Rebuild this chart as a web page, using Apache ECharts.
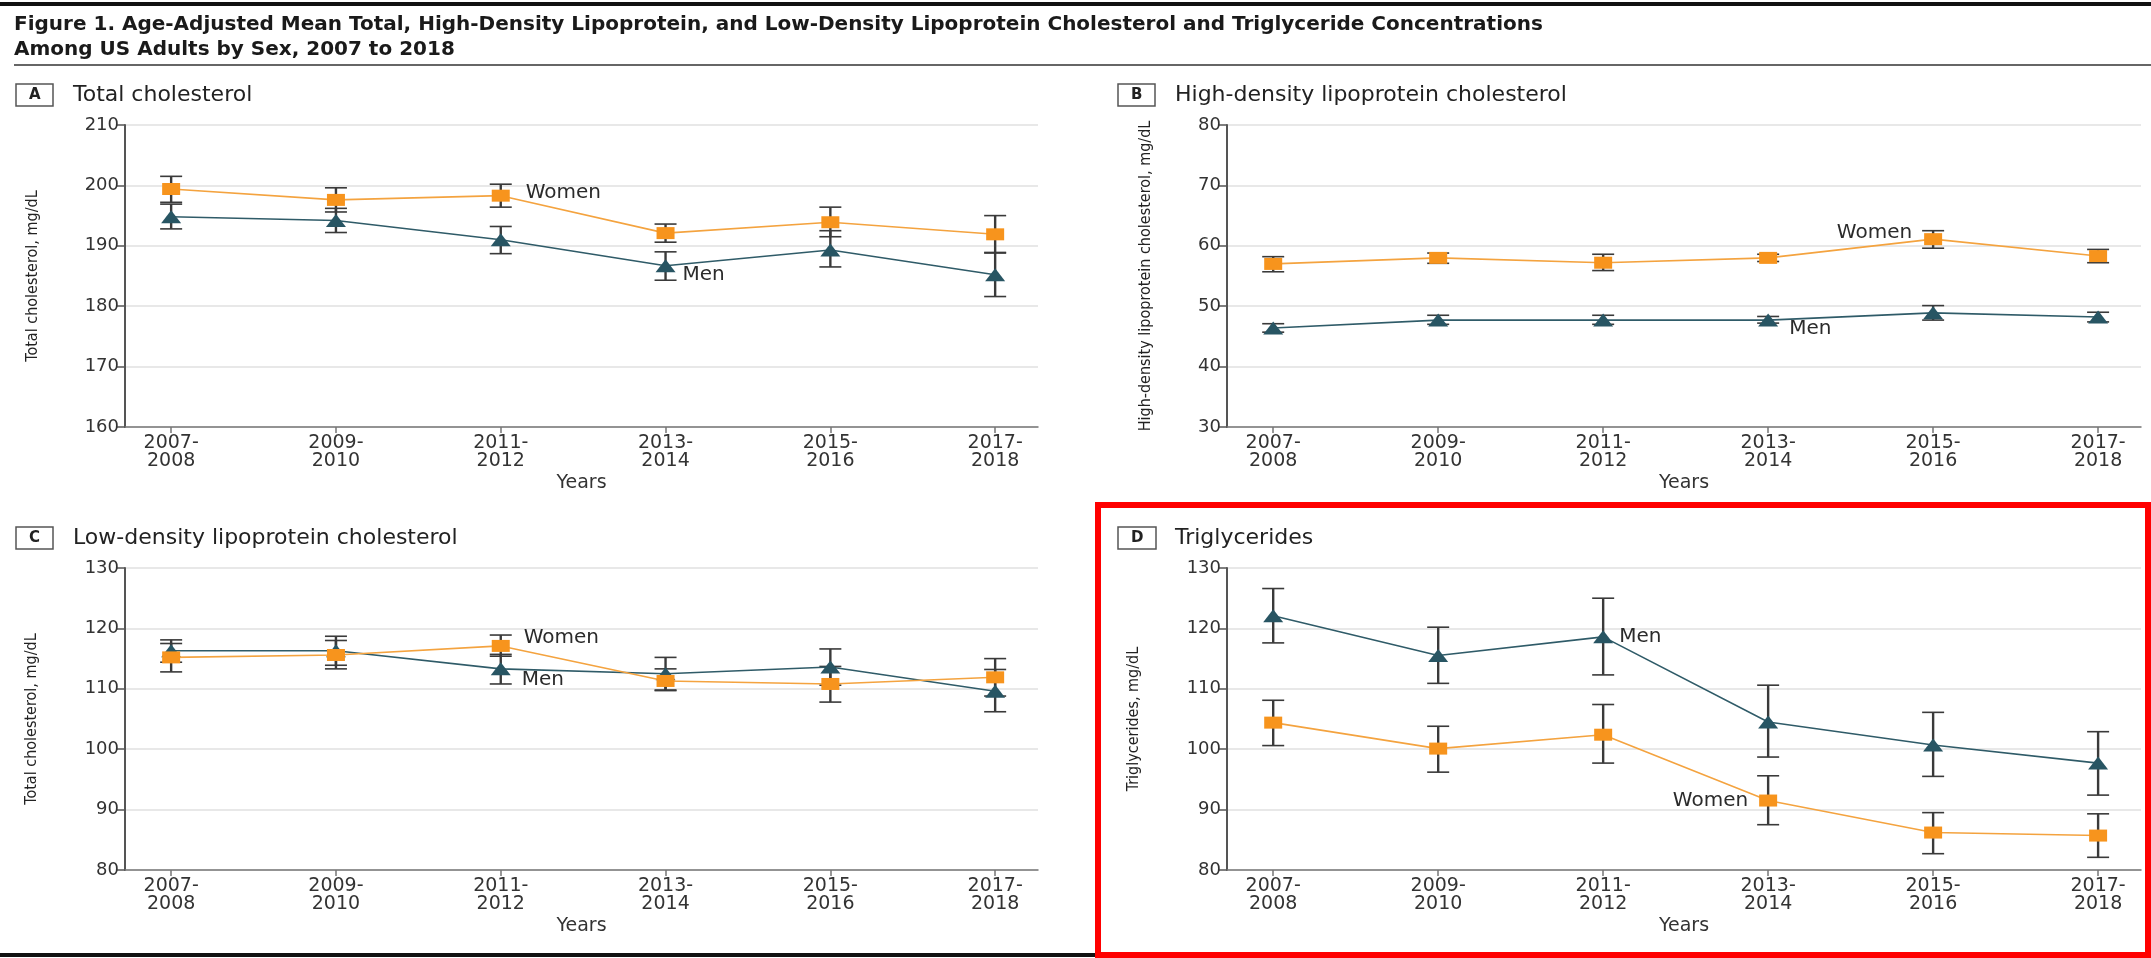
<!DOCTYPE html>
<html><head><meta charset="utf-8">
<script src="https://cdn.jsdelivr.net/npm/echarts@6/dist/echarts.min.js"></script>
<style>html,body{margin:0;padding:0;background:#fff}#c{width:2151px;height:958px}</style>
</head><body><div id="c"></div>
<script>
// ---------- DATA ----------
const periods = ['2007-\n2008','2009-\n2010','2011-\n2012','2013-\n2014','2015-\n2016','2017-\n2018'];

// A. Total cholesterol (mg/dL)
const tcWomen     = [199.4, 197.6, 198.3, 192.1, 193.9, 191.9];
const tcWomenLow  = [197.2, 195.6, 196.4, 190.6, 191.5, 188.8];
const tcWomenHigh = [201.5, 199.6, 200.2, 193.6, 196.4, 195.0];
const tcMen       = [194.8, 194.2, 191.0, 186.7, 189.3, 185.2];
const tcMenLow    = [192.8, 192.2, 188.7, 184.3, 186.5, 181.6];
const tcMenHigh   = [196.9, 196.2, 193.2, 189.0, 192.5, 188.9];

// B. HDL cholesterol (mg/dL)
const hdlWomen     = [57.0, 58.0, 57.2, 58.0, 61.1, 58.3];
const hdlWomenLow  = [55.7, 57.1, 55.9, 57.4, 59.6, 57.2];
const hdlWomenHigh = [58.2, 58.8, 58.6, 58.6, 62.5, 59.4];
const hdlMen       = [46.4, 47.7, 47.7, 47.7, 48.9, 48.2];
const hdlMenLow    = [45.7, 47.0, 47.0, 47.2, 47.7, 47.4];
const hdlMenHigh   = [47.1, 48.5, 48.5, 48.3, 50.1, 49.0];

// C. LDL cholesterol (mg/dL)
const ldlWomen     = [115.2, 115.6, 117.1, 111.3, 110.8, 111.9];
const ldlWomenLow  = [112.8, 113.3, 115.4, 109.7, 107.8, 108.8];
const ldlWomenHigh = [117.5, 118.0, 118.9, 113.3, 113.7, 115.0];
const ldlMen       = [116.3, 116.3, 113.3, 112.5, 113.6, 109.6];
const ldlMenLow    = [114.4, 113.9, 110.8, 109.8, 110.6, 106.2];
const ldlMenHigh   = [118.1, 118.7, 115.7, 115.2, 116.6, 113.2];

// D. Triglycerides (mg/dL)
const tgWomen     = [104.4, 100.1, 102.4, 91.5, 86.2, 85.7];
const tgWomenLow  = [100.6, 96.2, 97.7, 87.5, 82.7, 82.1];
const tgWomenHigh = [108.1, 103.8, 107.4, 95.6, 89.5, 89.3];
const tgMen       = [122.1, 115.5, 118.6, 104.5, 100.7, 97.7];
const tgMenLow    = [117.6, 110.9, 112.3, 98.7, 95.5, 92.4];
const tgMenHigh   = [126.6, 120.2, 125.0, 110.6, 106.1, 102.9];

// Axis ranges (ticks every 10)
const yRangeA = [160, 210];
const yRangeB = [30, 80];
const yRangeC = [80, 130];
const yRangeD = [80, 130];

// ---------- LAYOUT / STYLE ----------
const WOMEN_LINE = '#F4A33F', WOMEN_FILL = '#F7941D';
const MEN_LINE = '#2F5B68', MEN_FILL = '#285563';
const ERR = '#3a3a3a';
const TXT = '#2b2b2b';
const NARROW = '"Liberation Sans Narrow","DejaVu Sans Condensed","Roboto",sans-serif';
const WIDE = '"DejaVu Sans","Verdana",sans-serif';

const panels = [
  { key:'A', title:'Total cholesterol', yName:'Total cholesterol, mg/dL', range:yRangeA,
    grid:{left:125, top:125, width:913, height:302}, nameGap:84,
    women:[tcWomen,tcWomenLow,tcWomenHigh], men:[tcMen,tcMenLow,tcMenHigh],
    wLab:{i:2, pos:'right', off:[16,-3]}, mLab:{i:3, pos:'right', off:[7,9]},
    box:{x:16, y:84} },
  { key:'B', title:'High-density lipoprotein cholesterol', yName:'High-density lipoprotein cholesterol, mg/dL', range:yRangeB,
    grid:{left:1227, top:125, width:914, height:302}, nameGap:73,
    women:[hdlWomen,hdlWomenLow,hdlWomenHigh], men:[hdlMen,hdlMenLow,hdlMenHigh],
    wLab:{i:4, pos:'left', off:[-12,-6]}, mLab:{i:3, pos:'right', off:[11,9]},
    box:{x:1118, y:84} },
  { key:'C', title:'Low-density lipoprotein cholesterol', yName:'Total cholesterol, mg/dL', range:yRangeC,
    grid:{left:125, top:568, width:913, height:302}, nameGap:85,
    women:[ldlWomen,ldlWomenLow,ldlWomenHigh], men:[ldlMen,ldlMenLow,ldlMenHigh],
    wLab:{i:2, pos:'right', off:[14,-8]}, mLab:{i:2, pos:'right', off:[11,11]},
    box:{x:16, y:527} },
  { key:'D', title:'Triglycerides', yName:'Triglycerides, mg/dL', range:yRangeD,
    grid:{left:1227, top:568, width:914, height:302}, nameGap:85,
    women:[tgWomen,tgWomenLow,tgWomenHigh], men:[tgMen,tgMenLow,tgMenHigh],
    wLab:{i:3, pos:'left', off:[-11,0]}, mLab:{i:2, pos:'right', off:[6,0]},
    box:{x:1118, y:527} }
];

function errRender(params, api){
  const x = api.value(0), lo = api.value(1), hi = api.value(2);
  const a = api.coord([x, lo]), b = api.coord([x, hi]);
  const hw = 11;
  return { type:'group', children:[
    {type:'line', shape:{x1:a[0], y1:a[1], x2:b[0], y2:b[1]}, style:{stroke:ERR, lineWidth:2.4}},
    {type:'line', shape:{x1:a[0]-hw, y1:a[1], x2:a[0]+hw, y2:a[1]}, style:{stroke:ERR, lineWidth:1.6}},
    {type:'line', shape:{x1:b[0]-hw, y1:b[1], x2:b[0]+hw, y2:b[1]}, style:{stroke:ERR, lineWidth:1.6}}
  ]};
}

const labelStyle = {fontFamily:WIDE, fontSize:20, color:TXT, distance:0};

function lineData(vals, lab, text){
  return vals.map((v,i)=>{
    const item = {value:[i, v]};
    if (i === lab.i) {
      item.label = Object.assign({show:true, formatter:text, position:lab.pos, offset:lab.off}, labelStyle);
    }
    return item;
  });
}

const grids = [], xAxes = [], yAxes = [], series = [], titles = [];

titles.push({
  text:'Figure 1. Age-Adjusted Mean Total, High-Density Lipoprotein, and Low-Density Lipoprotein Cholesterol and Triglyceride Concentrations\nAmong US Adults by Sex, 2007 to 2018',
  left:14, top:12, padding:0,
  textStyle:{fontFamily:WIDE, fontWeight:'bold', fontSize:20, lineHeight:25, color:'#1a1a1a'}
});

panels.forEach((p, k)=>{
  grids.push(p.grid);
  xAxes.push({
    type:'value', gridIndex:k, min:-0.28, max:5.26,
    axisLine:{show:true, onZero:false, lineStyle:{color:'#777', width:1.5}},
    axisTick:{show:true, customValues:[0,1,2,3,4,5], length:6, lineStyle:{color:'#777', width:1.5}},
    axisLabel:{customValues:[0,1,2,3,4,5], formatter:(v)=>periods[Math.round(v)], fontFamily:WIDE, fontSize:19, lineHeight:18, color:'#333', margin:7},
    splitLine:{show:false},
    name:'Years', nameLocation:'middle', nameGap:47,
    nameTextStyle:{fontFamily:WIDE, fontSize:19, color:'#333', fontWeight:500}
  });
  yAxes.push({
    type:'value', gridIndex:k, min:p.range[0], max:p.range[1], interval:10,
    axisLine:{show:true, onZero:false, lineStyle:{color:'#555', width:2}},
    axisTick:{show:true, length:9, lineStyle:{color:'#555', width:1.5}},
    axisLabel:{fontFamily:WIDE, fontSize:18, color:'#333', margin:6},
    splitLine:{show:true, lineStyle:{color:'#e0e0e0', width:1.5}},
    name:p.yName, nameLocation:'middle', nameGap:p.nameGap,
    nameTextStyle:{fontFamily:NARROW, fontSize:16, color:'#222'}
  });
  const mk = (arr)=>arr[0].map((_,i)=>[i, arr[1][i], arr[2][i]]);
  series.push({type:'custom', xAxisIndex:k, yAxisIndex:k, renderItem:errRender, data:mk(p.men), z:1, silent:true});
  series.push({type:'custom', xAxisIndex:k, yAxisIndex:k, renderItem:errRender, data:mk(p.women), z:1, silent:true});
  series.push({type:'line', name:'Men', xAxisIndex:k, yAxisIndex:k, z:3,
    data:lineData(p.men[0], p.mLab, 'Men'),
    symbol:'triangle', symbolSize:[20,13], showAllSymbol:true,
    lineStyle:{color:MEN_LINE, width:1.6}, itemStyle:{color:MEN_FILL}, animation:false});
  series.push({type:'line', name:'Women', xAxisIndex:k, yAxisIndex:k, z:4,
    data:lineData(p.women[0], p.wLab, 'Women'),
    symbol:'rect', symbolSize:[18,12], showAllSymbol:true,
    lineStyle:{color:WOMEN_LINE, width:1.6}, itemStyle:{color:WOMEN_FILL}, animation:false});
  // panel letter box + title
  titles.push({text:p.key, left:p.box.x, top:p.box.y, padding:[3,13,3,13], borderColor:'#555', borderWidth:1.5,
    textStyle:{fontFamily:WIDE, fontWeight:'bold', fontSize:15, lineHeight:16, color:'#222'}});
  titles.push({text:p.title, left:p.box.x+57, top:p.box.y-1, padding:0,
    textStyle:{fontFamily:WIDE, fontWeight:'normal', fontSize:22, lineHeight:24, color:'#222'}});
});

const chart = echarts.init(document.getElementById('c'), null, {renderer:'canvas'});
chart.setOption({
  animation:false,
  backgroundColor:'#fff',
  title:titles,
  grid:grids, xAxis:xAxes, yAxis:yAxes, series:series,
  graphic:[
    {type:'rect', shape:{x:0, y:2, width:2151, height:4}, style:{fill:'#111'}, silent:true},
    {type:'rect', shape:{x:14, y:64, width:2137, height:2}, style:{fill:'#666'}, silent:true},
    {type:'rect', shape:{x:0, y:953, width:1100, height:4}, style:{fill:'#111'}, silent:true},
    {type:'rect', shape:{x:1098, y:505, width:1050, height:450}, style:{fill:'none', stroke:'#ff0000', lineWidth:6}, silent:true}
  ]
});
</script></body></html>
